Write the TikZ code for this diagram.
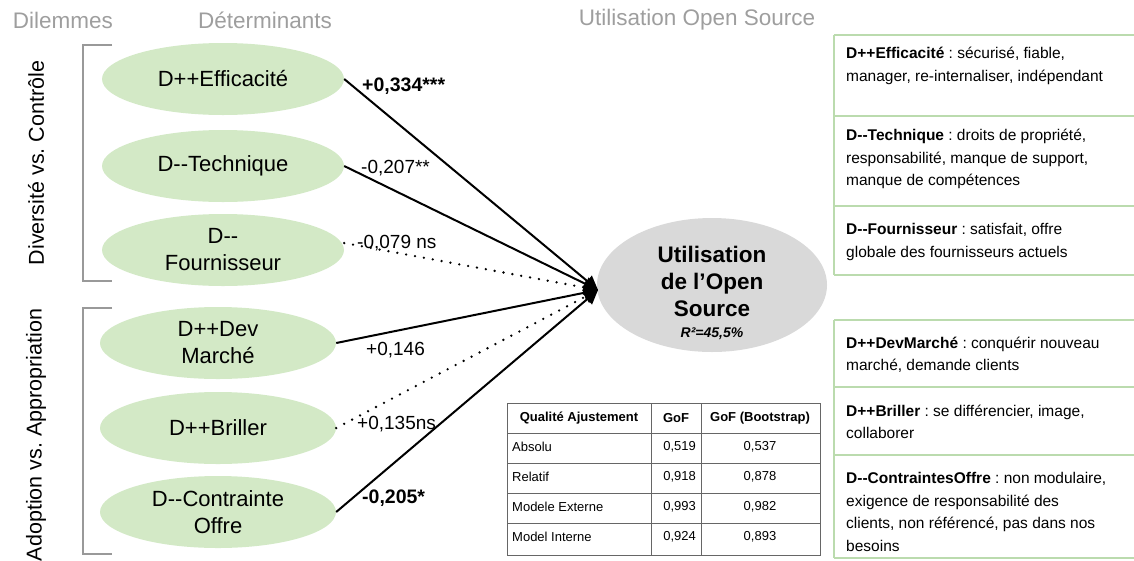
\documentclass[tikz,border=0pt]{standalone}
\usepackage{fontspec}
\setmainfont{Liberation Sans}
\usetikzlibrary{shapes.geometric,arrows.meta}
\definecolor{ellgreen}{HTML}{D3E9C6}
\definecolor{ellgray}{HTML}{D9D9D9}
\definecolor{hdrgray}{HTML}{9E9E9E}
\definecolor{brgray}{HTML}{999999}
\definecolor{panelgreen}{HTML}{BBDBAE}
\definecolor{tblgray}{HTML}{666666}
\newcommand\dm{-\kern0pt-}
\frenchspacing
\begin{document}
\frenchspacing
\begin{tikzpicture}[x=1pt,y=-1pt,
  ell/.style={ellipse, fill=ellgreen, minimum width=242pt, minimum height=72pt, inner sep=0pt, align=center, font=\fontsize{22}{27}\selectfont},
  hdr/.style={text=hdrgray, font=\fontsize{22.5}{26}\selectfont, inner sep=0pt},
  dil/.style={rotate=90, font=\fontsize{21.5}{26}\selectfont, inner sep=0pt},
  lbl/.style={font=\fontsize{19}{22}\selectfont, inner sep=0pt, anchor=west},
  conn/.style={line width=2pt, -{Triangle[length=14pt,width=14pt]}},
  dotconn/.style={line width=2.6pt, line cap=round, dash pattern=on 0pt off 9pt, -{Triangle[length=14pt,width=14pt]}},
  bracket/.style={draw=brgray, line width=2.5pt},
  panel/.style={draw=panelgreen, line width=1.5pt},
  ptxt/.style={anchor=west, align=left, inner sep=0pt, font=\fontsize{15.5}{22.5}\selectfont\frenchspacing},
  tline/.style={draw=tblgray, line width=1pt},
  tc/.style={inner sep=0pt, font=\fontsize{13}{15}\selectfont},
]
\useasboundingbox (0,0) rectangle (1134,560);
\clip (0,0) rectangle (1134,560);

% headers
\node[hdr] (h1) at (63,20) {Dilemmes};
\node[hdr] (h2) at (265,20) {Déterminants};
\node[hdr] (h3) at (697,20) {Utilisation Open Source};

% dilemma labels and brackets
\node[dil] (d1) at (36,163) {Diversité vs. Contrôle};
\node[dil] (d2) at (36,435) {Adoption vs. Appropriation};
\draw[bracket] (112,45) -- (83,45) -- (83,281) -- (112,281);
\draw[bracket] (112,308) -- (83,308) -- (83,554) -- (112,554);

% determinants
\node[ell] (e1) at (223,79) {D++Efficacité};
\node[ell] (e2) at (223,166) {D\dm Technique};
\node[ell] (e3) at (223,250) {D\dm\\Fournisseur};
\node[ell, minimum width=236pt] (e4) at (218,343) {D++Dev\\Marché};
\node[ell, minimum width=236pt] (e5) at (218,428) {D++Briller};
\node[ell, minimum width=236pt] (e6) at (218,512) {D\dm Contrainte\\Offre};

% outcome
\node[ellipse, fill=ellgray, minimum width=230pt, minimum height=134pt, inner sep=0pt] (ctr) at (712,285) {};
\node[align=center, inner sep=0pt, font=\fontsize{22.5}{27}\selectfont\bfseries] (ctrtxt) at (712,293)
      {Utilisation\\de l’Open\\Source\\[-6pt]{\fontsize{14}{16}\selectfont\bfseries\itshape R²=45,5\%}};
\coordinate (tip) at (598,290);

% connectors
\draw[conn] (e1.east) -- (tip);
\draw[conn] (e2.east) -- (tip);
\draw[dotconn] ([yshift=7pt]e3.east) -- (tip);
\draw[conn] (e4.east) -- (tip);
\draw[dotconn] (e5.east) -- (tip);
\draw[conn] (e6.east) -- (tip);

% path labels
\node[lbl, font=\fontsize{19.5}{22}\selectfont\bfseries] (l1) at (362,86) {+0,334***};
\node[lbl] (l2) at (361,168) {-0,207**};
\node[lbl] (l3) at (357,243) {-0,079 ns};
\node[lbl] (l4) at (366,350) {+0,146};
\node[lbl] (l5) at (357,424) {+0,135ns};
\node[lbl, font=\fontsize{19.5}{22}\selectfont\bfseries] (l6) at (362,498) {-0,205*};

% table
\draw[tline] (507,403) rectangle (820,555);
\foreach \yy in {433,463,493,523} \draw[tline] (507,\yy) -- (820,\yy);
\draw[tline] (651,403) -- (651,555);
\draw[tline] (701,403) -- (701,555);
\node[tc, font=\fontsize{13}{15}\selectfont\bfseries] (th1) at (579,418) {Qualité Ajustement};
\node[tc, font=\fontsize{13}{15}\selectfont\bfseries] (th2) at (676,418) {GoF};
\node[tc, font=\fontsize{13}{15}\selectfont\bfseries] (th3) at (760,418) {GoF (Bootstrap)};
\node[tc, anchor=west] (r1) at (512,447) {Absolu};
\node[tc, anchor=west] (r2) at (512,477) {Relatif};
\node[tc, anchor=west] (r3) at (512,507) {Modele Externe};
\node[tc, anchor=west] (r4) at (512,537) {Model Interne};
\node[tc, anchor=east] (g1) at (696,447) {0,519};
\node[tc, anchor=east] (g2) at (696,477) {0,918};
\node[tc, anchor=east] (g3) at (696,507) {0,993};
\node[tc, anchor=east] (g4) at (696,537) {0,924};
\node[tc] (b1) at (760,447) {0,537};
\node[tc] (b2) at (760,477) {0,878};
\node[tc] (b3) at (760,507) {0,982};
\node[tc] (b4) at (760,537) {0,893};

% right panels
\draw[panel] (834,35) -- (834,275);
\foreach \yy in {35,116,206,275} \draw[panel] (834,\yy) -- (1134,\yy);
\draw[panel] (834,320) -- (834,558);
\foreach \yy in {320,387,455,558} \draw[panel] (834,\yy) -- (1134,\yy);

\node[ptxt] (p1) at (846,66) {\textbf{D++Efficacité} : sécurisé, fiable,\\manager, re-internaliser, indépendant};
\node[ptxt] (p2) at (846,159) {\textbf{D\dm Technique} : droits de propriété,\\responsabilité, manque de support,\\manque de compétences};
\node[ptxt] (p3) at (846,242) {\textbf{D\dm Fournisseur} : satisfait, offre\\globale des fournisseurs actuels};
\node[ptxt] (p4) at (846,355) {\textbf{D++DevMarché} : conquérir nouveau\\marché, demande clients};
\node[ptxt] (p5) at (846,422) {\textbf{D++Briller} : se différencier, image,\\collaborer};
\node[ptxt] (p6) at (846,512) {\textbf{D\dm ContraintesOffre} : non modulaire,\\exigence de responsabilité des\\clients, non référencé, pas dans nos\\besoins};
\end{tikzpicture}
\end{document}
